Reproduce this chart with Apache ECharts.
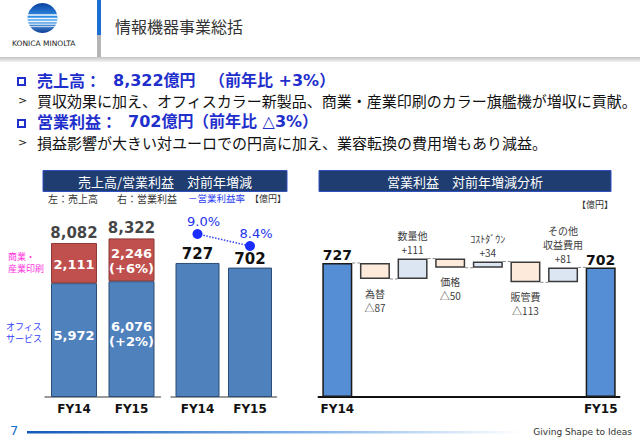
<!DOCTYPE html>
<html><head><meta charset="utf-8">
<script src="https://cdn.jsdelivr.net/npm/echarts@6/dist/echarts.min.js"></script>
<style>html,body{margin:0;padding:0;background:#fff}#c{width:640px;height:443px}</style>
</head><body><div id="c"></div>
<script>
// ---- data ----
const years = ['FY14', 'FY15'];
const officeSales = [5972, 6076];
const printSales = [2111, 2246];
const salesTotal = [8082, 8322];
const officeGrowth = ['', '+2%'];
const printGrowth = ['', '+6%'];
const opProfit = [727, 702];
const opMargin = [9.0, 8.4];
const wfCats = ['FY14', '為替', '数量他', '価格', 'ｺｽﾄﾀﾞｳﾝ', '販管費', 'その他\n収益費用', 'FY15'];
const wfStart = 727;
const wfDeltas = [-87, 111, -50, 34, -113, 81];
const wfEnd = 702;

// ---- helpers ----
const JP = "'Noto Sans CJK JP', sans-serif";
const NUM = "'DejaVu Sans', 'Noto Sans CJK JP', sans-serif";
const fmt = v => v.toLocaleString('en-US');

// waterfall build
const wfBase = [0], wfVis = [], wfLevels = [wfStart];
let lvl = wfStart;
wfVis.push({value: wfStart, itemStyle: {color: '#558ED5', borderColor: '#1a1a1a', borderWidth: 1.5},
  label: {show: true, position: 'top', distance: 1, formatter: fmt(wfStart), fontFamily: NUM, fontWeight: 'bold', fontSize: 14, color: '#111'}});
wfDeltas.forEach((d, i) => {
  const name = wfCats[i + 1];
  const txt = name + '\n' + (d > 0 ? '+' + d : '△' + (-d));
  if (d < 0) { wfBase.push(lvl + d); } else { wfBase.push(lvl); }
  lvl += d;
  wfLevels.push(lvl);
  wfVis.push({value: Math.abs(d),
    itemStyle: {color: d < 0 ? '#FDEADA' : '#DCE6F2', borderColor: '#3a3a3a', borderWidth: 1.5},
    label: {show: true, position: d < 0 ? 'bottom' : 'top', distance: d < 0 ? 7 : 2,
      formatter: txt, fontFamily: JP, fontSize: 10, lineHeight: 14, color: '#404040'}});
});
wfBase.push(0);
wfVis.push({value: wfEnd, itemStyle: {color: '#558ED5', borderColor: '#1a1a1a', borderWidth: 1.5},
  label: {show: true, position: 'top', distance: 1, formatter: fmt(wfEnd), fontFamily: NUM, fontWeight: 'bold', fontSize: 14, color: '#111'}});
const connectors = wfLevels.map((v, i) => [i, v]);

// logo stripes
const gcx = 42.5, gcy = 18, gr = 15;
const stripes = [[-3, 1.6], [0.5, 1.4], [3.5, 1.2], [6.2, 1.0], [8.6, 0.8]].map(([dy, w]) => {
  const hw = Math.sqrt(gr * gr - dy * dy);
  return {type: 'line', shape: {x1: gcx - hw, y1: gcy + dy, x2: gcx + hw, y2: gcy + dy},
    style: {stroke: '#ffffff', lineWidth: w, opacity: 0.9}, silent: true};
});

const chart = echarts.init(document.getElementById('c'), null, {renderer: 'svg'});
const boldAxisLabel = {fontFamily: NUM, fontWeight: 'bold', fontSize: 12, color: '#111', margin: 6};

chart.setOption({
  animation: false,
  backgroundColor: '#ffffff',
  grid: [
    {left: 45.25, width: 115, top: 225.5, height: 171.5},
    {left: 171.25, width: 105, top: 249.5, height: 147.5},
    {left: 171.25, width: 105, top: 214, height: 40},
    {left: 318.5, width: 301, top: 249.5, height: 147.5}
  ],
  xAxis: [
    {gridIndex: 0, type: 'category', data: years, axisTick: {show: false},
      axisLine: {lineStyle: {color: '#9a9a9a', width: 2}}, axisLabel: boldAxisLabel},
    {gridIndex: 1, type: 'category', data: years, axisTick: {show: false},
      axisLine: {lineStyle: {color: '#9a9a9a', width: 2}}, axisLabel: boldAxisLabel},
    {gridIndex: 2, type: 'category', data: years, show: false},
    {gridIndex: 3, type: 'category', data: wfCats, axisTick: {show: false},
      axisLine: {lineStyle: {color: '#111', width: 2}},
      axisLabel: Object.assign({}, boldAxisLabel, {interval: 0, formatter: (v, i) => (i === 0 || i === wfCats.length - 1) ? v : ''})}
  ],
  yAxis: [
    {gridIndex: 0, type: 'value', min: 0, max: 9000, show: false},
    {gridIndex: 1, type: 'value', min: 0, max: 800, show: false},
    {gridIndex: 2, type: 'value', min: 8, max: 10, show: false},
    {gridIndex: 3, type: 'value', min: 0, max: 800, show: false}
  ],
  series: [
    {name: 'オフィスサービス', type: 'bar', xAxisIndex: 0, yAxisIndex: 0, stack: 's', barWidth: 46,
      data: officeSales, itemStyle: {color: '#4F81BD', borderColor: '#2C4D75', borderWidth: 1},
      label: {show: true, position: 'inside', offset: [0, -5], color: '#fff', fontFamily: NUM, fontWeight: 'bold', fontSize: 13, lineHeight: 15,
        formatter: p => fmt(p.value) + (officeGrowth[p.dataIndex] ? '\n(' + officeGrowth[p.dataIndex] + ')' : '')}},
    {name: '商業・産業印刷', type: 'bar', xAxisIndex: 0, yAxisIndex: 0, stack: 's', barWidth: 46,
      data: printSales, itemStyle: {color: '#C0504D', borderColor: '#8C3836', borderWidth: 1},
      label: {show: true, position: 'inside', offset: [0, 1], color: '#fff', fontFamily: NUM, fontWeight: 'bold', fontSize: 13, lineHeight: 15,
        formatter: p => fmt(p.value) + (printGrowth[p.dataIndex] ? '\n(' + printGrowth[p.dataIndex] + ')' : '')}},
    {name: '売上高', type: 'scatter', xAxisIndex: 0, yAxisIndex: 0, data: salesTotal, symbol: 'circle', symbolSize: 1,
      itemStyle: {color: 'rgba(0,0,0,0)'}, z: 5,
      label: {show: true, position: 'top', distance: 2, color: '#111', fontFamily: NUM, fontWeight: 'bold', fontSize: 15, formatter: p => fmt(p.value)}},
    {name: '営業利益', type: 'bar', xAxisIndex: 1, yAxisIndex: 1, barWidth: 44, data: opProfit,
      itemStyle: {color: '#4F81BD', borderColor: '#2C4D75', borderWidth: 1},
      label: {show: true, position: 'top', distance: 1, color: '#111', fontFamily: NUM, fontWeight: 'bold', fontSize: 15, formatter: p => fmt(p.value)}},
    {name: '営業利益率', type: 'line', xAxisIndex: 2, yAxisIndex: 2, data: opMargin,
      symbol: 'circle', symbolSize: 10, itemStyle: {color: '#1a2cff'},
      lineStyle: {color: '#3344ee', width: 1.5, type: 'dotted'},
      label: {show: true, position: 'top', offset: [6, 4], color: '#2233ee', fontFamily: NUM, fontSize: 13, formatter: p => p.value.toFixed(1) + '%'}},
    {name: 'base', type: 'bar', xAxisIndex: 3, yAxisIndex: 3, stack: 'wf', barWidth: 30, data: wfBase,
      itemStyle: {color: 'transparent', borderWidth: 0}, silent: true},
    {name: '増減', type: 'bar', xAxisIndex: 3, yAxisIndex: 3, stack: 'wf', barWidth: 30, data: wfVis},
    {name: 'conn', type: 'custom', xAxisIndex: 3, yAxisIndex: 3, data: connectors, silent: true, z: 1,
      renderItem: (params, api) => {
        const i = api.value(0), v = api.value(1);
        const p1 = api.coord([i, v]), p2 = api.coord([i + 1, v]);
        return {type: 'line', shape: {x1: p1[0] + 15, y1: p1[1], x2: p2[0] - 15, y2: p2[1]},
          style: {stroke: '#8a8a8a', lineWidth: 1, lineDash: [3, 2]}};
      }}
  ],
  graphic: [
    // header
    {type: 'rect', shape: {x: 0, y: 57, width: 640, height: 5},
      style: {fill: new echarts.graphic.LinearGradient(0, 0, 0, 1, [{offset: 0, color: '#c4c4c4'}, {offset: 1, color: '#f2f2f2'}])}, silent: true},
    {type: 'rect', shape: {x: 97, y: 0, width: 4, height: 35}, style: {fill: '#1b6fd0'}},
    {type: 'rect', shape: {x: 97, y: 35, width: 4, height: 22}, style: {fill: '#b4b4b4'}},
    {type: 'circle', shape: {cx: gcx, cy: gcy, r: gr},
      style: {fill: new echarts.graphic.LinearGradient(0, 0, 0, 1, [{offset: 0, color: '#0b3f9e'}, {offset: 0.45, color: '#2f8fe6'}, {offset: 0.6, color: '#6fb8f2'}, {offset: 1, color: '#0a3c98'}])}},
    ...stripes,
    {type: 'text', left: 12, top: 40, style: {text: 'KONICA MINOLTA', fontFamily: NUM, fontSize: 7.5, fill: '#222'}},
    {type: 'text', left: 115, top: 18, style: {text: '情報機器事業総括', fontFamily: JP, fontSize: 16, fill: '#333'}},
    // bullets
    {type: 'rect', shape: {x: 18, y: 78, width: 7, height: 7}, style: {fill: 'none', stroke: '#1f2fcc', lineWidth: 2}},
    {type: 'text', left: 37, top: 72, style: {text: '売上高：', fontFamily: JP, fontWeight: 'bold', fontSize: 16, fill: '#1f2fcc'}},
    {type: 'text', left: 113, top: 72, style: {text: '8,322億円', fontFamily: NUM, fontWeight: 'bold', fontSize: 16, fill: '#1f2fcc'}},
    {type: 'text', left: 209, top: 72, style: {text: '（前年比 +3%）', fontFamily: NUM, fontWeight: 'bold', fontSize: 16, fill: '#1f2fcc'}},
    {type: 'text', left: 18, top: 95, style: {text: '>', fontFamily: NUM, fontSize: 11, fill: '#222'}},
    {type: 'text', left: 37, top: 93, style: {text: '買収効果に加え、オフィスカラー新製品、商業・産業印刷のカラー旗艦機が増収に貢献。', fontFamily: JP, fontSize: 15, fill: '#111'}},
    {type: 'rect', shape: {x: 18, y: 120, width: 7, height: 7}, style: {fill: 'none', stroke: '#1f2fcc', lineWidth: 2}},
    {type: 'text', left: 37, top: 113, style: {text: '営業利益：', fontFamily: JP, fontWeight: 'bold', fontSize: 16, fill: '#1f2fcc'}},
    {type: 'text', left: 128, top: 113, style: {text: '702億円', fontFamily: NUM, fontWeight: 'bold', fontSize: 16, fill: '#1f2fcc'}},
    {type: 'text', left: 193, top: 113, style: {text: '（前年比 △3%）', fontFamily: NUM, fontWeight: 'bold', fontSize: 16, fill: '#1f2fcc'}},
    {type: 'text', left: 18, top: 137, style: {text: '>', fontFamily: NUM, fontSize: 11, fill: '#222'}},
    {type: 'text', left: 37, top: 135, style: {text: '損益影響が大きい対ユーロでの円高に加え、業容転換の費用増もあり減益。', fontFamily: JP, fontSize: 15, fill: '#111'}},
    // panel headers
    {type: 'rect', shape: {x: 43, y: 170.5, width: 244, height: 21}, style: {fill: '#1F3D70', stroke: '#3050c0', lineWidth: 1}},
    {type: 'text', x: 165, y: 181, style: {text: '売上高/営業利益　対前年増減', fontFamily: JP, fontSize: 13, fill: '#fff', align: 'center', verticalAlign: 'middle'}},
    {type: 'rect', shape: {x: 319, y: 170.5, width: 292, height: 21}, style: {fill: '#1F3D70', stroke: '#3050c0', lineWidth: 1}},
    {type: 'text', x: 465, y: 181, style: {text: '営業利益　対前年増減分析', fontFamily: JP, fontSize: 13, fill: '#fff', align: 'center', verticalAlign: 'middle'}},
    // subtitle
    {type: 'text', left: 48, top: 193, style: {text: '左：売上高', fontFamily: JP, fontSize: 10, fill: '#333'}},
    {type: 'text', left: 117, top: 193, style: {text: '右：営業利益', fontFamily: JP, fontSize: 10, fill: '#333'}},
    {type: 'text', left: 188, top: 193, style: {text: '－営業利益率', fontFamily: JP, fontSize: 9.5, fill: '#2a3cf0'}},
    {type: 'text', left: 250, top: 194, style: {text: '【億円】', fontFamily: JP, fontSize: 9, fill: '#333'}},
    {type: 'text', left: 577, top: 200, style: {text: '【億円】', fontFamily: JP, fontSize: 9, fill: '#333'}},
    // side labels
    {type: 'text', left: 8, top: 250, style: {text: '商業・\n産業印刷', fontFamily: JP, fontSize: 9, lineHeight: 12, fill: '#ff33dd', align: 'center'}},
    {type: 'text', left: 6, top: 320, style: {text: 'オフィス\nサービス', fontFamily: JP, fontSize: 9, lineHeight: 12, fill: '#3340ff', align: 'center'}},
    // footer
    {type: 'text', left: 10, top: 424, style: {text: '7', fontFamily: NUM, fontSize: 13, fill: '#1b6fd0'}},
    {type: 'rect', shape: {x: 27, y: 431, width: 495, height: 2.5},
      style: {fill: new echarts.graphic.LinearGradient(0, 0, 1, 0, [{offset: 0, color: '#1158b8'}, {offset: 0.6, color: '#8ab8ea'}, {offset: 1, color: '#ffffff'}])}},
    {type: 'text', right: 8, top: 427, style: {text: 'Giving Shape to Ideas', fontFamily: NUM, fontSize: 9, fill: '#333'}}
  ]
});
</script></body></html>
